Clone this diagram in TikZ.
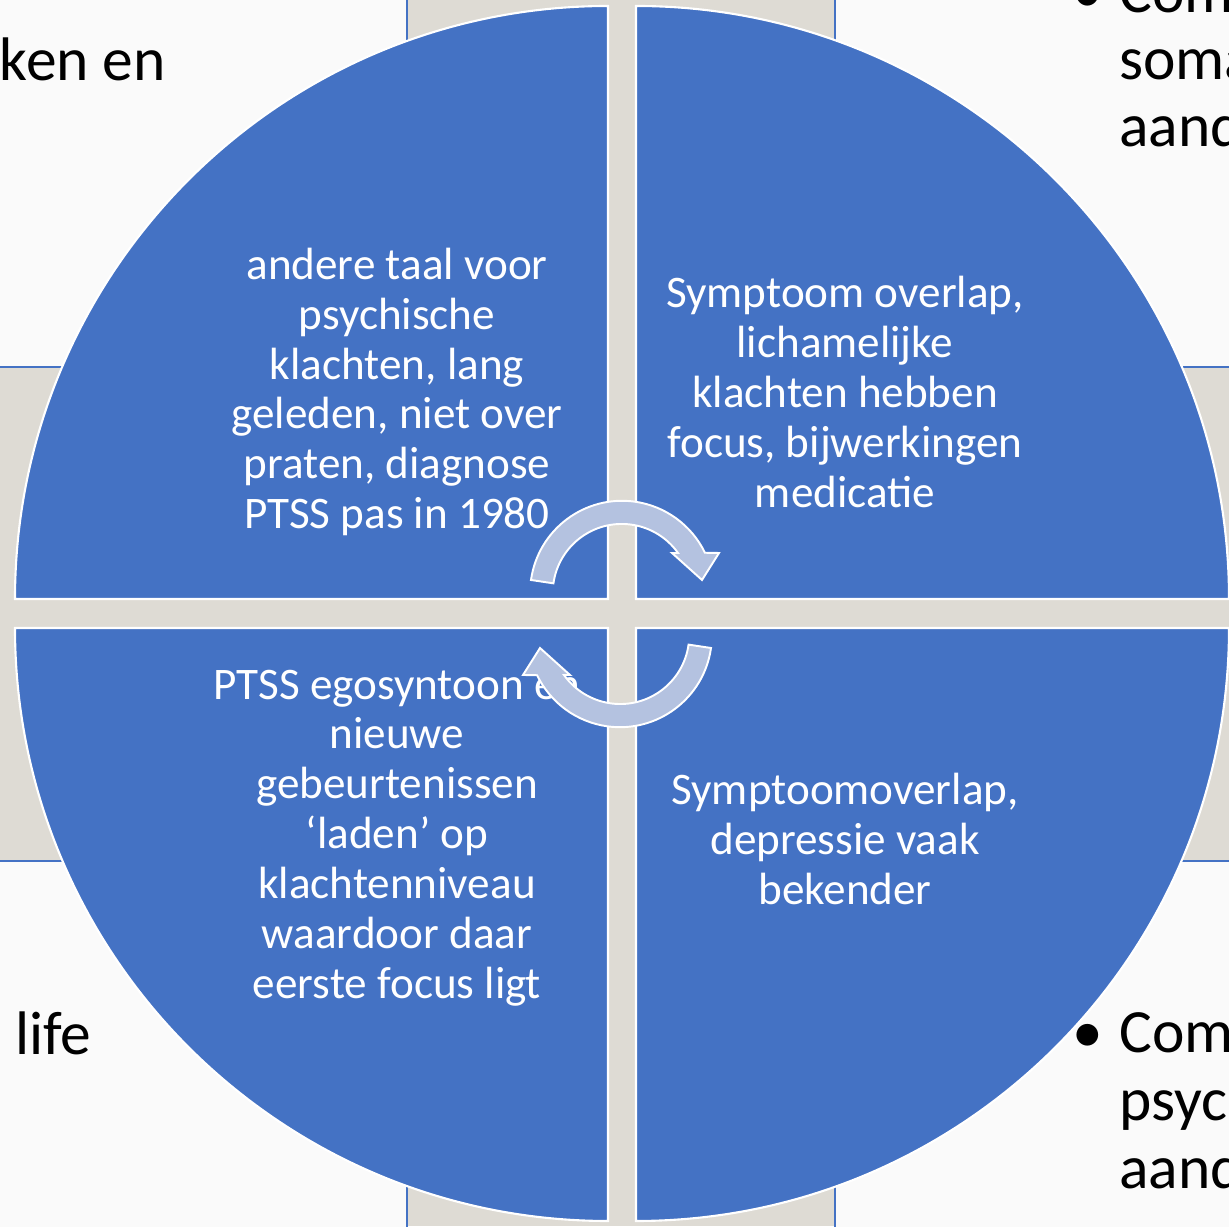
\documentclass[tikz,border=0pt]{standalone}
\usepackage{fontspec}
\setmainfont{Carlito}
\definecolor{quadblue}{RGB}{68,114,196}
\definecolor{cyclefill}{RGB}{180,194,224}
\definecolor{photogray}{RGB}{222,219,212}
\definecolor{boxwhite}{RGB}{250,250,250}

\begin{document}
\begin{tikzpicture}[x=0.02cm,y=0.02cm,
  quad/.style={fill=quadblue,draw=white,line width=1.2pt},
  cyclearrow/.style={fill=cyclefill,draw=white,line width=1.1pt},
  quadtext/.style={text=white,align=center,font=\fontsize{25.7}{28.4}\selectfont},
  slidebox/.style={fill=boxwhite,draw=quadblue,line width=1pt},
  slidetext/.style={text=black,inner sep=0pt,font=\fontsize{35}{38}\selectfont}]
\useasboundingbox (0,0) rectangle (1229,1226);
\clip (0,0) rectangle (1229,1226);

\fill[photogray] (0,0) rectangle (1229,1226);
\draw[slidebox] (-10,859) rectangle (407,1236);
\draw[slidebox] (835,859) rectangle (1239,1236);
\draw[slidebox] (-10,-10) rectangle (407,365);
\draw[slidebox] (835,-10) rectangle (1239,365);

\node[slidetext,anchor=base east] (kenen) at (166,1145) {rken en};
\node[slidetext,anchor=base west] (life) at (15,171) {life};
\node[slidetext,anchor=base west] (bulup) at (1072,1213) {•};
\node[slidetext,anchor=base west] (comup) at (1119,1213) {Com};
\node[slidetext,anchor=base west] (soma) at (1119,1146) {soma};
\node[slidetext,anchor=base west] (aandup) at (1119,1079) {aand};
\node[slidetext,anchor=base west] (buldown) at (1072,173) {•};
\node[slidetext,anchor=base west] (comdown) at (1119,173) {Com};
\node[slidetext,anchor=base west] (psych) at (1119,106) {psych};
\node[slidetext,anchor=base west] (aanddown) at (1119,38) {aand};

\draw[quad] (608,627) -- (15,627) arc (180:90:593) -- cycle;
\draw[quad] (636,627) -- (636,1220) arc (90:0:593) -- cycle;
\draw[quad] (608,598) -- (608,5) arc (270:180:593) -- cycle;
\draw[quad] (636,598) -- (1229,598) arc (0:-90:593) -- cycle;

\node[quadtext] (taal) at (397,834) {andere taal voor\\psychische\\klachten, lang\\geleden, niet over\\praten, diagnose\\PTSS pas in 1980};
\node[quadtext] (overlap) at (845,834) {Symptoom overlap,\\lichamelijke\\klachten hebben\\focus, bijwerkingen\\medicatie};
\node[quadtext] (egosyntoon) at (397,388) {PTSS egosyntoon en\\nieuwe\\gebeurtenissen\\‘laden’ op\\klachtenniveau\\waardoor daar\\eerste focus ligt};
\node[quadtext] (depressie) at (845,387) {Symptoomoverlap,\\depressie vaak\\bekender};

\draw[cyclearrow] (531,646) arc (172:25.8:92) -- (719,673) -- (702,646) -- (672,673) -- (678,673) arc (35.4:172:69) -- cycle;
\draw[cyclearrow,rotate around={180:(621,612)}] (531,646) arc (172:25.8:92) -- (719,673) -- (702,646) -- (672,673) -- (678,673) arc (35.4:172:69) -- cycle;

\end{tikzpicture}
\end{document}
